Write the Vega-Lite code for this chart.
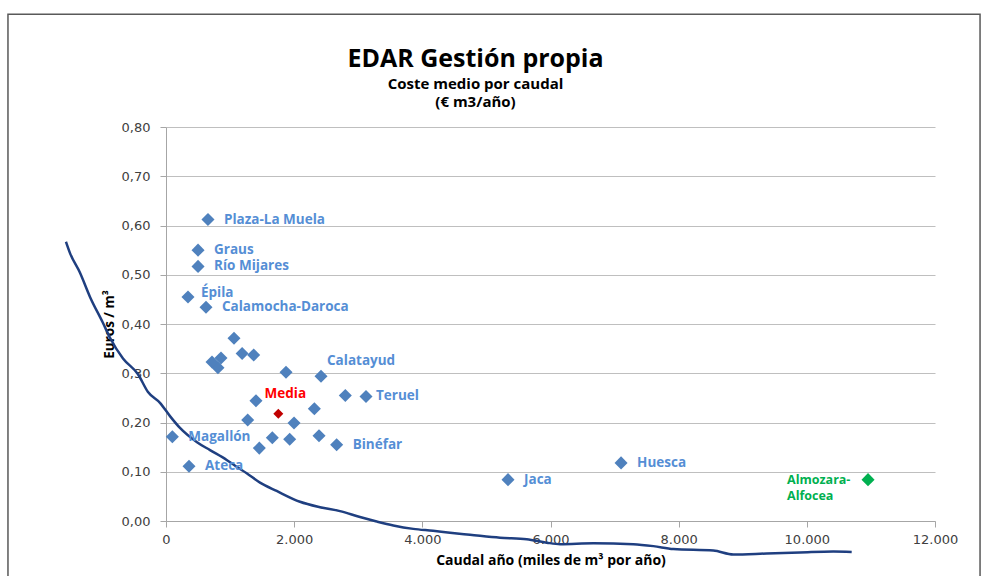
{
  "$schema": "https://vega.github.io/schema/vega-lite/v6.json",
  "width": 769,
  "height": 394,
  "autosize": {"type": "none"},
  "padding": {"left": 166, "top": 127, "right": 49, "bottom": 55},
  "background": "white",
  "config": {"view": {"stroke": null}},
  "title": {
    "text": "EDAR Gestión propia",
    "subtitle": ["Coste medio por caudal", "(€ m3/año)"],
    "anchor": "middle",
    "dx": -75,
    "offset": -97,
    "font": "Open Sans",
    "fontSize": 25,
    "fontWeight": "bold",
    "color": "#000000",
    "subtitleFont": "Open Sans",
    "subtitleFontSize": 15,
    "subtitleFontWeight": "bold",
    "subtitleColor": "#000000",
    "subtitlePadding": 5,
    "subtitleLineHeight": 18
  },
  "datasets": {
    "points": [
      {"name": "Plaza-La Muela", "x": 655, "y": 0.612, "tipo": "EDAR"},
      {"name": "Graus", "x": 500, "y": 0.550, "tipo": "EDAR"},
      {"name": "Río Mijares", "x": 500, "y": 0.517, "tipo": "EDAR"},
      {"name": "Épila", "x": 343, "y": 0.455, "tipo": "EDAR"},
      {"name": "Calamocha-Daroca", "x": 624, "y": 0.434, "tipo": "EDAR"},
      {"name": "", "x": 1061, "y": 0.371, "tipo": "EDAR"},
      {"name": "", "x": 1188, "y": 0.340, "tipo": "EDAR"},
      {"name": "", "x": 1368, "y": 0.337, "tipo": "EDAR"},
      {"name": "", "x": 718, "y": 0.323, "tipo": "EDAR"},
      {"name": "", "x": 858, "y": 0.331, "tipo": "EDAR"},
      {"name": "", "x": 811, "y": 0.311, "tipo": "EDAR"},
      {"name": "", "x": 1873, "y": 0.302, "tipo": "EDAR"},
      {"name": "Calatayud", "x": 2419, "y": 0.294, "tipo": "EDAR"},
      {"name": "", "x": 2798, "y": 0.255, "tipo": "EDAR"},
      {"name": "Teruel", "x": 3121, "y": 0.253, "tipo": "EDAR"},
      {"name": "", "x": 1404, "y": 0.244, "tipo": "EDAR"},
      {"name": "", "x": 2315, "y": 0.228, "tipo": "EDAR"},
      {"name": "", "x": 1275, "y": 0.205, "tipo": "EDAR"},
      {"name": "", "x": 1998, "y": 0.199, "tipo": "EDAR"},
      {"name": "Magallón", "x": 99, "y": 0.171, "tipo": "EDAR"},
      {"name": "", "x": 1659, "y": 0.169, "tipo": "EDAR"},
      {"name": "", "x": 1930, "y": 0.166, "tipo": "EDAR"},
      {"name": "", "x": 2388, "y": 0.173, "tipo": "EDAR"},
      {"name": "Binéfar", "x": 2663, "y": 0.155, "tipo": "EDAR"},
      {"name": "", "x": 1456, "y": 0.148, "tipo": "EDAR"},
      {"name": "Ateca", "x": 359, "y": 0.111, "tipo": "EDAR"},
      {"name": "Jaca", "x": 5337, "y": 0.084, "tipo": "EDAR"},
      {"name": "Huesca", "x": 7101, "y": 0.118, "tipo": "EDAR"},
      {"name": "Media", "x": 1753, "y": 0.218, "tipo": "Media"},
      {"name": "Almozara-\nAlfocea", "x": 10955, "y": 0.084, "tipo": "Almozara"}
    ],
    "curve": [
      {"x": -1561, "y": 0.567},
      {"x": -1498, "y": 0.544},
      {"x": -1342, "y": 0.504},
      {"x": -1186, "y": 0.455},
      {"x": -983, "y": 0.402},
      {"x": -874, "y": 0.372},
      {"x": -671, "y": 0.330},
      {"x": -437, "y": 0.298},
      {"x": -281, "y": 0.262},
      {"x": -94, "y": 0.240},
      {"x": 62, "y": 0.213},
      {"x": 218, "y": 0.189},
      {"x": 484, "y": 0.160},
      {"x": 687, "y": 0.144},
      {"x": 947, "y": 0.124},
      {"x": 1103, "y": 0.110},
      {"x": 1259, "y": 0.097},
      {"x": 1467, "y": 0.078},
      {"x": 1727, "y": 0.061},
      {"x": 2091, "y": 0.039},
      {"x": 2403, "y": 0.028},
      {"x": 2715, "y": 0.020},
      {"x": 3027, "y": 0.008},
      {"x": 3288, "y": -0.001},
      {"x": 3547, "y": -0.009},
      {"x": 3859, "y": -0.016},
      {"x": 4167, "y": -0.020},
      {"x": 4432, "y": -0.024},
      {"x": 4744, "y": -0.028},
      {"x": 5212, "y": -0.034},
      {"x": 5629, "y": -0.037},
      {"x": 5941, "y": -0.044},
      {"x": 6149, "y": -0.047},
      {"x": 6669, "y": -0.045},
      {"x": 7293, "y": -0.047},
      {"x": 7605, "y": -0.051},
      {"x": 7917, "y": -0.057},
      {"x": 8541, "y": -0.060},
      {"x": 8853, "y": -0.068},
      {"x": 9373, "y": -0.066},
      {"x": 9894, "y": -0.064},
      {"x": 10414, "y": -0.062},
      {"x": 10700, "y": -0.063}
    ],
    "frame": [
      {"x": -2466, "y": 1.029, "xe": 12703, "ye": -0.2}
    ]
  },
  "encoding": {
    "x": {
      "field": "x",
      "type": "quantitative",
      "scale": {"domain": [0, 12000], "nice": false, "zero": false},
      "axis": {
        "title": "Caudal año (miles de m³ por año)",
        "values": [0, 2000, 4000, 6000, 8000, 10000, 12000],
        "labelExpr": "replace(format(datum.value, ',.0f'), ',', '.')",
        "labelFlush": false,
        "grid": false,
        "domainColor": "#A6A6A6",
        "tickColor": "#A6A6A6",
        "tickSize": 6,
        "labelPadding": 6,
        "labelFont": "DejaVu Sans",
        "labelFontSize": 13,
        "labelColor": "#404040",
        "titleFont": "Open Sans",
        "titleFontSize": 14,
        "titleFontWeight": "bold",
        "titleColor": "#000000",
        "titlePadding": 7
      }
    },
    "y": {
      "field": "y",
      "type": "quantitative",
      "scale": {"domain": [0, 0.8], "nice": false, "zero": false},
      "axis": {
        "title": "Euros / m³",
        "values": [0, 0.1, 0.2, 0.3, 0.4, 0.5, 0.6, 0.7, 0.8],
        "labelExpr": "replace(format(datum.value, '.2f'), '.', ',')",
        "labelFlush": false,
        "grid": true,
        "gridColor": "#BFBFBF",
        "gridWidth": 1,
        "domainColor": "#A6A6A6",
        "tickColor": "#A6A6A6",
        "tickSize": 6,
        "labelPadding": 10,
        "labelFont": "DejaVu Sans",
        "labelFontSize": 13,
        "labelColor": "#404040",
        "titleFont": "Open Sans",
        "titleFontSize": 13.5,
        "titleFontWeight": "bold",
        "titleColor": "#000000",
        "titlePadding": 5
      }
    }
  },
  "layer": [
    {
      "data": {"name": "frame"},
      "mark": {"type": "rect", "fill": "transparent", "stroke": "#595959", "strokeWidth": 1.5, "clip": false},
      "encoding": {
        "x2": {"field": "xe"},
        "y2": {"field": "ye"}
      }
    },
    {
      "data": {"name": "curve"},
      "mark": {"type": "line", "color": "#1F3F80", "strokeWidth": 2.5, "clip": false, "interpolate": "monotone"},
      "encoding": {
        "order": {"field": "x", "type": "quantitative"}
      }
    },
    {
      "data": {"name": "points"},
      "transform": [{"filter": "datum.tipo !== 'Media'"}],
      "mark": {"type": "point", "shape": "diamond", "filled": true, "size": 170, "opacity": 1},
      "encoding": {
        "color": {
          "field": "tipo",
          "type": "nominal",
          "scale": {"domain": ["EDAR", "Media", "Almozara"], "range": ["#4F81BD", "#C00000", "#00B050"]},
          "legend": null
        }
      }
    },
    {
      "data": {"name": "points"},
      "transform": [{"filter": "datum.tipo === 'Media'"}],
      "mark": {"type": "point", "shape": "diamond", "filled": true, "size": 100, "opacity": 1, "color": "#C00000"},
      "encoding": {}
    },
    {
      "data": {"name": "points"},
      "transform": [{"filter": {"field": "name", "oneOf": ["Plaza-La Muela", "Graus", "Río Mijares", "Calamocha-Daroca", "Binéfar", "Jaca", "Huesca", "Magallón", "Ateca"]}}],
      "mark": {"type": "text", "align": "left", "baseline": "middle", "dx": 16, "font": "Open Sans", "fontSize": 13.5, "fontWeight": "bold", "color": "#558ED5"},
      "encoding": {"text": {"field": "name"}}
    },
    {
      "data": {"name": "points"},
      "transform": [{"filter": {"field": "name", "oneOf": ["Teruel"]}}],
      "mark": {"type": "text", "align": "left", "baseline": "middle", "dx": 10, "font": "Open Sans", "fontSize": 13.5, "fontWeight": "bold", "color": "#558ED5"},
      "encoding": {"text": {"field": "name"}}
    },
    {
      "data": {"name": "points"},
      "transform": [{"filter": {"field": "name", "oneOf": ["Épila"]}}],
      "mark": {"type": "text", "align": "left", "baseline": "middle", "dx": 13, "dy": -4, "font": "Open Sans", "fontSize": 13.5, "fontWeight": "bold", "color": "#558ED5"},
      "encoding": {"text": {"field": "name"}}
    },
    {
      "data": {"name": "points"},
      "transform": [{"filter": {"field": "name", "oneOf": ["Calatayud"]}}],
      "mark": {"type": "text", "align": "left", "baseline": "middle", "dx": 6, "dy": -15, "font": "Open Sans", "fontSize": 13.5, "fontWeight": "bold", "color": "#558ED5"},
      "encoding": {"text": {"field": "name"}}
    },
    {
      "data": {"name": "points"},
      "transform": [{"filter": {"field": "name", "oneOf": ["Media"]}}],
      "mark": {"type": "text", "align": "center", "baseline": "middle", "dx": 7, "dy": -20, "font": "Open Sans", "fontSize": 13.5, "fontWeight": "bold", "color": "#FF0000"},
      "encoding": {"text": {"field": "name"}}
    },
    {
      "data": {"name": "points"},
      "transform": [{"filter": "datum.tipo === 'Almozara'"}],
      "mark": {"type": "text", "align": "left", "baseline": "top", "dx": -81, "dy": -6, "lineBreak": "\n", "lineHeight": 16, "font": "Open Sans", "fontSize": 12.5, "fontWeight": "bold", "color": "#00B050"},
      "encoding": {"text": {"field": "name"}}
    }
  ]
}
